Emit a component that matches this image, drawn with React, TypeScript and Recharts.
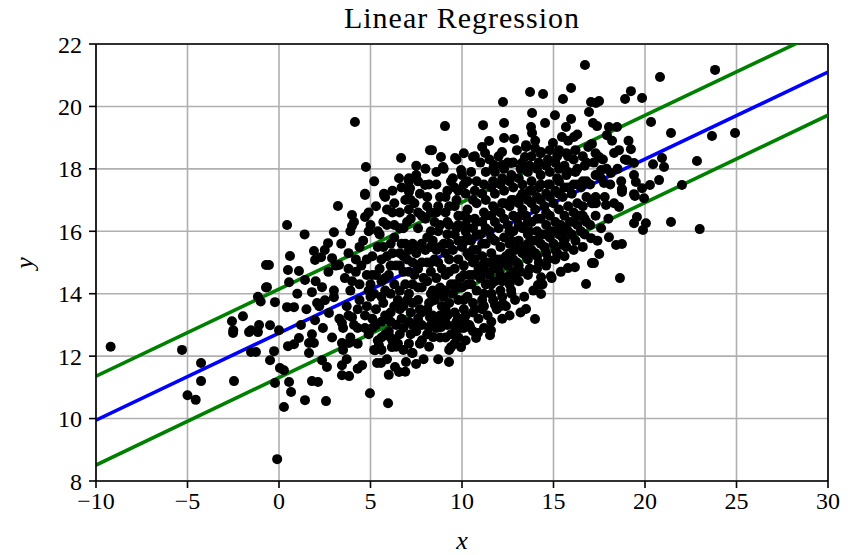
import React from 'react'
import {
  ComposedChart,
  Scatter,
  Line,
  XAxis,
  YAxis,
  CartesianGrid,
  ReferenceLine,
} from 'recharts'

const samples: [number, number][] = [
  // far left
  [-9.2, 12.3], [-5.3, 12.2], [-5.0, 10.75], [-4.55, 10.6], [-4.26, 11.78], [-4.26, 11.2],
  [-2.46, 11.2], [-2.51, 12.74], [-1.64, 12.77], [-1.15, 12.77], [-1.53, 12.13], [-1.26, 12.13],
  [-0.71, 14.92], [-0.71, 14.2], [-1.15, 13.9], [-1.0, 13.75], [-1.97, 13.28], [-2.57, 13.12],
  [-2.5, 12.83], [-1.53, 12.83], [-1.09, 13.0],
  // upper left edge
  [4.15, 19.5], [4.75, 18.06], [6.67, 18.35], [8.25, 18.6], [6.56, 17.7], [7.1, 17.7], [7.5, 17.8],
  [7.16, 17.38], [7.98, 17.48], [4.7, 17.2], [5.74, 17.2],
  // top
  [16.72, 21.33], [13.72, 20.46], [14.43, 20.4], [15.96, 20.59], [15.52, 20.24], [12.24, 20.14],
  [17.05, 20.14], [13.83, 19.79], [15.08, 19.72], [16.94, 19.82], [9.07, 19.37], [11.15, 19.4],
  [12.3, 19.47], [14.54, 19.47], [15.96, 19.6], [13.77, 19.34], [13.83, 19.15], [15.68, 19.34],
  [17.16, 19.47], [11.48, 18.89], [12.3, 18.99], [12.84, 18.96], [8.36, 18.6], [13.5, 18.76],
  [13.99, 18.67], [12.19, 18.54], [14.97, 18.83], [15.46, 19.02], [16.12, 19.02], [8.85, 18.38],
  [9.62, 18.35], [10.6, 18.38], [11.26, 18.51], [12.19, 18.12], [12.68, 18.19], [13.44, 18.38],
  [14.32, 18.54], [11.75, 18.12], [9.95, 17.96], [8.96, 18.06],
  // right
  [23.83, 21.17], [20.82, 20.94], [19.23, 20.49], [18.91, 20.24], [19.84, 20.27], [17.49, 20.17],
  [17.32, 20.11], [20.33, 19.5], [21.42, 19.15], [23.66, 19.05], [24.92, 19.15], [22.84, 18.25],
  [20.93, 18.35], [20.44, 18.15], [21.04, 18.06], [20.77, 17.64], [22.02, 17.48], [20.27, 17.48],
  [19.84, 17.38], [18.74, 17.35], [19.4, 17.19],
  [17.38, 19.37], [18.03, 19.34], [18.47, 19.34], [17.92, 19.08], [18.58, 18.6], [19.23, 18.63],
  [17.49, 18.38], [18.31, 18.51], [19.02, 18.28], [19.4, 18.19], [17.6, 17.96], [18.14, 17.87],
  [19.4, 17.8], [19.5, 17.58], [17.76, 17.55], [18.74, 17.32],
  [17.32, 16.9], [17.87, 16.84], [18.31, 16.9], [18.58, 16.78], [18.74, 17.26], [19.45, 17.13],
  [19.95, 17.06], [19.56, 16.46], [19.4, 16.26], [20.05, 16.26], [19.89, 16.04], [21.42, 16.3],
  [22.99, 16.07], [17.6, 16.1], [18.03, 15.81], [18.42, 15.56], [18.74, 15.59], [17.21, 14.98],
  [18.63, 14.5], [17.5, 15.27],
  // lower right of the cloud
  [17.16, 16.9], [17.05, 15.78], [15.52, 15.56], [15.79, 14.82], [16.17, 14.85], [17.1, 14.98],
  [16.78, 14.31], [14.86, 14.56], [14.32, 14.53], [14.15, 14.28], [14.32, 13.99], [13.5, 13.51],
  [13.99, 13.19], [11.8, 13.64], [11.15, 13.64], [12.24, 13.67], [12.68, 14.12], [12.9, 14.53],
  [8.25, 13.25], [8.52, 13.22], [9.07, 13.15], [9.78, 13.22], [10.16, 13.09], [10.44, 12.93],
  [10.87, 12.74], [11.58, 12.83], [8.85, 12.93], [9.62, 12.93],
  [8.42, 12.61], [9.67, 12.64], [9.4, 12.29], [9.95, 12.29], [10.77, 12.58], [11.53, 12.67],
  [9.29, 11.81],
  // bottom left
  [-0.1, 8.7], [0.27, 10.37], [1.42, 10.59], [2.57, 10.56], [4.97, 10.81], [5.96, 10.49],
  [0.66, 10.85], [0.55, 11.17], [-0.22, 11.14], [1.8, 11.2], [2.13, 11.17], [3.44, 11.39],
  [3.83, 11.36], [0.05, 11.62], [0.27, 11.55], [-0.49, 11.87], [-0.27, 12.16], [0.49, 12.32],
  [0.82, 12.38], [1.09, 12.58], [1.64, 12.42], [1.91, 12.42], [1.64, 12.1], [2.62, 11.65],
  [2.35, 11.87], [3.44, 11.71], [3.44, 12.42], [3.83, 12.42], [4.54, 11.71], [5.36, 11.78],
  [5.57, 11.78], [5.25, 12.19], [5.46, 12.35], [6.34, 11.65], [6.56, 11.49], [6.94, 11.81],
  [7.49, 11.75], [6.17, 12.29], [6.34, 12.51], [7.27, 12.1], [7.81, 12.51],
  // left part of the cloud
  [0.44, 16.2], [3.22, 16.81], [4.7, 17.16], [5.74, 17.16], [7.1, 17.26], [3.99, 16.52],
  [4.7, 16.46], [3.99, 16.17], [3.0, 15.97], [2.68, 15.62], [1.91, 15.37], [0.6, 15.21],
  [-0.55, 14.92], [0.49, 14.76], [1.09, 14.73], [0.55, 14.37], [1.42, 14.44], [-0.66, 14.21],
  [-0.22, 13.73], [0.44, 13.57], [0.82, 13.57], [1.8, 14.05], [2.35, 14.21], [1.97, 15.08],
  [2.3, 15.17], [2.9, 15.14], [3.28, 14.92], [-0.49, 12.99], [0.0, 12.83], [2.08, 13.7],
  [2.51, 13.79], [3.0, 13.89], [2.73, 13.38], [1.97, 13.15], [3.44, 13.06], [3.99, 13.25],
  [1.5, 13.5], [2.0, 14.4], [2.4, 12.9], [1.2, 13.0], [2.2, 13.6], [1.8, 12.7], [2.7, 14.7],
  [2.5, 15.4], [1.0, 14.0], [1.4, 15.9],
  // dense core
  [3.1, 14.9], [3.3, 13.2], [2.9, 12.6], [3.4, 15.6], [3.0, 14.1], [3.5, 12.2],
  [3.6, 14.5], [3.7, 13.6], [3.8, 15.3], [3.5, 12.9], [3.9, 16.0], [3.7, 11.9],
  [4.1, 13.0], [4.0, 14.4], [4.2, 15.1], [4.3, 12.4], [4.4, 13.8], [4.1, 16.3], [4.5, 14.9], [4.3, 11.6],
  [4.7, 13.3], [4.8, 14.6], [4.6, 15.7], [4.9, 12.7], [5.0, 13.9], [5.1, 15.2], [4.9, 16.6],
  [5.2, 12.2], [5.0, 14.3], [5.3, 13.5], [5.2, 17.6], [5.4, 16.0],
  [5.5, 14.8], [5.6, 13.1], [5.7, 15.5], [5.6, 12.6], [5.8, 14.1], [5.9, 16.7], [5.7, 13.7],
  [5.9, 11.9], [5.5, 15.9], [5.8, 17.1],
  [6.0, 14.6], [6.1, 13.4], [6.2, 15.3], [6.0, 12.8], [6.3, 16.2], [6.1, 14.0], [6.4, 13.0],
  [6.2, 17.3], [6.3, 15.8], [6.4, 12.3], [6.0, 11.4],
  [6.6, 14.9], [6.5, 13.8], [6.7, 15.6], [6.8, 12.9], [6.6, 16.6], [6.9, 14.3], [6.7, 13.2],
  [6.9, 17.0], [6.5, 12.4], [6.8, 15.2], [6.9, 11.5],
  [7.0, 15.1], [7.1, 14.0], [7.2, 13.4], [7.0, 16.3], [7.3, 15.6], [7.2, 12.7], [7.4, 14.6],
  [7.1, 17.6], [7.3, 12.1], [7.4, 16.9], [7.0, 13.8],
  [7.5, 15.3], [7.6, 14.2], [7.7, 13.5], [7.6, 16.1], [7.8, 15.0], [7.5, 12.8], [7.9, 14.5],
  [7.7, 17.2], [7.8, 13.0], [7.6, 16.6], [7.9, 11.9], [7.5, 18.1],
  [8.0, 15.4], [8.1, 14.4], [8.2, 13.7], [8.0, 16.4], [8.3, 15.0], [8.2, 12.9], [8.4, 14.1],
  [8.1, 17.1], [8.3, 16.0], [8.4, 13.3], [8.0, 18.0], [8.2, 12.3], [8.4, 15.7],
  [8.5, 15.1], [8.6, 14.5], [8.7, 16.0], [8.5, 13.8], [8.8, 15.5], [8.6, 13.1], [8.9, 14.8],
  [8.7, 16.8], [8.8, 12.6], [8.6, 17.5], [8.9, 13.6], [8.5, 16.3], [8.7, 11.9],
  [9.0, 15.6], [9.1, 14.6], [9.2, 16.3], [9.0, 13.9], [9.3, 15.1], [9.2, 13.3], [9.4, 14.3],
  [9.1, 17.1], [9.3, 16.8], [9.4, 12.7], [9.0, 18.0], [9.2, 15.9], [9.3, 12.2], [9.4, 17.6],
  [9.5, 15.4], [9.6, 14.8], [9.7, 16.1], [9.5, 14.0], [9.8, 15.7], [9.6, 13.4], [9.9, 14.5],
  [9.7, 17.0], [9.8, 16.5], [9.9, 12.9], [9.5, 17.7], [9.6, 12.4], [9.8, 13.8], [9.7, 18.3],
  [10.0, 15.5], [10.1, 14.9], [10.2, 16.2], [10.0, 14.2], [10.3, 15.8], [10.1, 13.5], [10.4, 14.6],
  [10.2, 17.2], [10.3, 16.7], [10.4, 13.0], [10.0, 17.8], [10.2, 12.5], [10.3, 13.9], [10.1, 18.5],
  [10.4, 15.2],
  [10.5, 15.7], [10.6, 15.0], [10.7, 16.4], [10.5, 14.3], [10.8, 15.9], [10.6, 13.7], [10.9, 14.8],
  [10.7, 17.3], [10.8, 16.9], [10.9, 13.2], [10.5, 17.9], [10.6, 12.8], [10.8, 14.1], [10.7, 18.4],
  [11.0, 15.9], [11.1, 15.2], [11.2, 16.6], [11.0, 14.5], [11.3, 16.1], [11.1, 13.8], [11.4, 15.0],
  [11.2, 17.5], [11.3, 17.0], [11.4, 13.3], [11.0, 18.2], [11.2, 12.9], [11.3, 14.3], [11.1, 18.7],
  [11.5, 16.0], [11.6, 15.3], [11.7, 16.8], [11.5, 14.6], [11.8, 16.3], [11.6, 14.0], [11.9, 15.1],
  [11.7, 17.6], [11.8, 17.2], [11.9, 13.5], [11.5, 18.3], [11.6, 13.1], [11.8, 14.4], [11.7, 18.0],
  [12.0, 16.1], [12.1, 15.5], [12.2, 16.9], [12.0, 14.8], [12.3, 16.4], [12.1, 14.1], [12.4, 15.2],
  [12.2, 17.7], [12.3, 17.3], [12.4, 13.6], [12.0, 18.4], [12.2, 13.2], [12.3, 14.5],
  [12.5, 16.2], [12.6, 15.6], [12.7, 17.0], [12.5, 14.9], [12.8, 16.5], [12.6, 14.3], [12.9, 15.4],
  [12.7, 17.8], [12.8, 17.4], [12.9, 13.8], [12.5, 18.2], [12.6, 13.3], [12.8, 14.7],
  [13.0, 16.4], [13.1, 15.7], [13.2, 17.1], [13.0, 15.0], [13.3, 16.7], [13.1, 14.4], [13.4, 15.5],
  [13.2, 18.0], [13.3, 17.5], [13.4, 13.9], [13.0, 18.6], [13.2, 13.4],
  [13.5, 16.5], [13.6, 15.9], [13.7, 17.3], [13.5, 15.2], [13.8, 16.9], [13.6, 14.6], [13.9, 15.7],
  [13.7, 18.1], [13.8, 17.6], [13.9, 14.1], [13.5, 18.7],
  [14.0, 16.7], [14.1, 16.0], [14.2, 17.4], [14.0, 15.3], [14.3, 17.0], [14.1, 14.8], [14.4, 15.9],
  [14.2, 18.2], [14.3, 17.8], [14.4, 14.3], [14.0, 18.9],
  [14.5, 16.8], [14.6, 16.2], [14.7, 17.5], [14.5, 15.5], [14.8, 17.1], [14.6, 14.9], [14.9, 16.0],
  [14.7, 18.3], [14.8, 17.9], [14.9, 14.5],
  [15.0, 16.9], [15.1, 16.3], [15.2, 17.7], [15.0, 15.6], [15.3, 17.2], [15.1, 15.1], [15.4, 16.2],
  [15.2, 18.4], [15.3, 18.0], [15.4, 14.7],
  [15.5, 17.1], [15.6, 16.5], [15.7, 17.8], [15.5, 15.8], [15.8, 17.4], [15.6, 15.2], [15.9, 16.3],
  [15.7, 18.5], [15.8, 18.9],
  [16.0, 17.2], [16.1, 16.6], [16.2, 17.9], [16.0, 15.9], [16.3, 17.5], [16.1, 15.4], [16.4, 16.5],
  [16.2, 18.6], [16.3, 19.1],
  [16.5, 17.4], [16.6, 16.8], [16.7, 18.1], [16.5, 16.0], [16.8, 17.6], [16.6, 15.5], [16.9, 18.7],
  [16.7, 16.4],
  [17.0, 17.5], [17.1, 16.9], [17.2, 18.2], [17.0, 16.2], [17.3, 17.8], [17.1, 18.8], [17.4, 15.7],
  [17.6, 17.7], [17.8, 17.1], [17.7, 18.3], [18.0, 16.4], [17.9, 18.0], [18.1, 17.5], [18.2, 18.9],
  [18.5, 18.0], [18.7, 17.6], [18.9, 18.3], [19.1, 18.9],
  // core, filling between the columns above
  [3.8, 13.3], [3.9, 14.1], [3.8, 14.8], [3.9, 12.6],
  [4.3, 13.5], [4.4, 14.3], [4.2, 14.7], [4.4, 15.5], [4.3, 12.9],
  [4.8, 13.6], [4.8, 15.1], [4.9, 14.1], [4.7, 12.9], [4.9, 16.0],
  [5.3, 14.6], [5.3, 13.0], [5.4, 15.5], [5.2, 14.0], [5.3, 16.8], [5.4, 12.5],
  [5.8, 14.5], [5.8, 13.3], [5.9, 15.2], [5.8, 12.7], [5.9, 16.2],
  [6.3, 14.3], [6.3, 13.6], [6.4, 14.9], [6.2, 12.5], [6.3, 16.9],
  [6.8, 14.7], [6.8, 13.6], [6.8, 16.1], [6.9, 15.6], [6.8, 12.2],
  [7.3, 14.3], [7.3, 13.0], [7.3, 15.0], [7.2, 16.4], [7.3, 13.7], [7.2, 17.0],
  [7.8, 14.2], [7.8, 15.6], [7.8, 16.5], [7.8, 13.4], [7.7, 12.4],
  [8.3, 14.7], [8.3, 13.0], [8.3, 15.5], [8.3, 16.6], [8.2, 17.5], [8.3, 14.0],
  [8.8, 14.2], [8.8, 16.2], [8.8, 13.3], [8.8, 17.1], [8.7, 15.0],
  [9.3, 14.7], [9.3, 15.6], [9.3, 13.7], [9.2, 17.3], [9.3, 16.2], [9.2, 13.0],
  [9.8, 15.1], [9.8, 14.2], [9.8, 16.2], [9.8, 17.3], [9.7, 13.1], [9.8, 12.6],
  [10.3, 15.3], [10.3, 14.3], [10.3, 16.4], [10.2, 13.3], [10.3, 17.6], [10.2, 16.0],
  [10.8, 15.4], [10.8, 14.6], [10.8, 16.3], [10.7, 13.5], [10.8, 17.6], [10.7, 15.1],
  [11.3, 15.6], [11.3, 14.7], [11.3, 16.5], [11.2, 13.6], [11.3, 17.9], [11.2, 14.0],
  [11.8, 15.7], [11.8, 15.0], [11.8, 16.7], [11.7, 13.8], [11.8, 17.9], [11.7, 14.8],
  [12.3, 15.8], [12.3, 15.0], [12.3, 16.9], [12.2, 14.4], [12.3, 18.0], [12.2, 13.9],
  [12.8, 16.0], [12.8, 15.1], [12.8, 17.0], [12.7, 14.0], [12.8, 18.2], [12.7, 15.7],
  [13.3, 16.1], [13.3, 15.3], [13.3, 17.2], [13.2, 14.7], [13.3, 18.2], [13.2, 16.5],
  [13.8, 16.3], [13.8, 15.4], [13.8, 17.3], [13.7, 14.8], [13.8, 18.4], [13.7, 16.0],
  [14.3, 16.4], [14.3, 15.6], [14.3, 17.5], [14.2, 15.0], [14.3, 18.5],
  [14.8, 16.5], [14.8, 15.8], [14.8, 17.5], [14.7, 15.1], [14.8, 18.6],
  [15.3, 16.7], [15.3, 15.9], [15.3, 17.6], [15.2, 15.3], [15.3, 18.6],
  [15.8, 16.8], [15.8, 16.0], [15.8, 17.9], [15.7, 15.5], [15.8, 18.4],
  [16.3, 16.9], [16.3, 16.2], [16.3, 18.0], [16.2, 15.7],
  [16.8, 17.1], [16.8, 16.3], [16.8, 18.2], [16.7, 15.9],
  [17.3, 17.1], [17.3, 16.5], [17.3, 18.5],
  // core, third pass
  [5.1, 14.6], [5.1, 13.2], [5.0, 16.2], [5.1, 12.9],
  [5.6, 14.4], [5.6, 15.1], [5.6, 13.9], [5.7, 16.3], [5.6, 12.2],
  [6.1, 14.9], [6.1, 15.6], [6.1, 13.1], [6.2, 16.6], [6.1, 12.6],
  [6.6, 14.1], [6.6, 15.3], [6.6, 13.5], [6.6, 16.1], [6.6, 12.7], [6.7, 17.4],
  [7.1, 14.7], [7.1, 15.4], [7.1, 13.1], [7.1, 16.7], [7.1, 12.4],
  [7.6, 14.8], [7.6, 13.8], [7.6, 15.5], [7.6, 17.6], [7.6, 13.2],
  [8.1, 15.0], [8.1, 13.5], [8.1, 15.8], [8.1, 16.8], [8.1, 12.7],
  [8.6, 15.4], [8.6, 14.0], [8.6, 16.6], [8.6, 12.9], [8.6, 17.9],
  [9.1, 15.3], [9.1, 14.1], [9.1, 16.6], [9.1, 13.5], [9.1, 12.6],
  [9.6, 15.9], [9.6, 14.3], [9.6, 16.8], [9.6, 13.0], [9.6, 17.4],
  [10.1, 15.7], [10.1, 14.6], [10.1, 16.5], [10.1, 13.8], [10.1, 17.5], [10.1, 12.9],
  [10.6, 16.1], [10.6, 14.6], [10.6, 17.0], [10.6, 13.4], [10.6, 15.4],
  [11.1, 16.3], [11.1, 14.9], [11.1, 17.2], [11.1, 13.5], [11.1, 15.6],
  [11.6, 16.5], [11.6, 15.0], [11.6, 17.4], [11.6, 14.3], [11.6, 15.8],
  [12.1, 16.6], [12.1, 15.1], [12.1, 17.5], [12.1, 14.6], [12.1, 13.6],
  [12.6, 16.8], [12.6, 15.3], [12.6, 17.6], [12.6, 14.6], [12.6, 16.0],
  [13.1, 16.9], [13.1, 15.5], [13.1, 17.7], [13.1, 14.9], [13.1, 16.2],
  [13.6, 17.0], [13.6, 15.6], [13.6, 17.9], [13.6, 15.1], [13.6, 16.3],
  [14.1, 17.1], [14.1, 15.7], [14.1, 18.0], [14.1, 15.2], [14.1, 16.4],
  [14.6, 17.2], [14.6, 15.9], [14.6, 18.1], [14.6, 15.3], [14.6, 16.6],
  [15.1, 17.3], [15.1, 16.0], [15.1, 18.2], [15.1, 15.4],
  [15.6, 17.4], [15.6, 16.1], [15.6, 18.1], [15.6, 15.7],
  [16.1, 17.5], [16.1, 16.3], [16.1, 18.3],
  [16.6, 17.6], [16.6, 16.5], [16.6, 18.4],
]

// fitted line (blue) and the two green bands, end points
const lineX = [-10, 30]
const fitY = [9.95, 21.1]
const upperY = [11.36, 22.5]
const lowerY = [8.51, 19.72]

const xTicks = [-10, -5, 0, 5, 10, 15, 20, 25, 30]
const yTicks = [8, 10, 12, 14, 16, 18, 20, 22]

const points = samples.map(([x, y]) => ({ x, y }))
const fitLine = lineX.map((x, i) => ({ x, y: fitY[i] }))
const upperLine = lineX.map((x, i) => ({ x, y: upperY[i] }))
const lowerLine = lineX.map((x, i) => ({ x, y: lowerY[i] }))

const FONT = '"Liberation Serif", "DejaVu Serif", serif'
const tickStyle = { fontFamily: FONT, fontSize: 24, fill: '#000' }
const fmt = (v: number) => (v < 0 ? `\u2212${Math.abs(v)}` : `${v}`)

const Dot = (props: any) => <circle cx={props.cx} cy={props.cy} r={5} fill="#000" />

export default function App() {
  return (
    <div
      style={{
        position: 'absolute',
        left: 0,
        top: 0,
        width: 859,
        height: 555,
        background: '#fff',
        fontFamily: FONT,
      }}
    >
      <div
        style={{
          position: 'absolute',
          left: 96,
          width: 732,
          top: 0,
          textAlign: 'center',
          fontSize: 30,
          letterSpacing: 1,
          lineHeight: '36px',
        }}
      >
        Linear Regression
      </div>
      <div
        style={{
          position: 'absolute',
          left: 96,
          width: 732,
          top: 526,
          textAlign: 'center',
          fontSize: 26,
          fontStyle: 'italic',
          lineHeight: '30px',
        }}
      >
        x
      </div>
      <div
        style={{
          position: 'absolute',
          left: 10,
          top: 248,
          width: 30,
          textAlign: 'center',
          fontSize: 26,
          fontStyle: 'italic',
          lineHeight: '30px',
          transform: 'rotate(-90deg)',
        }}
      >
        y
      </div>
      <ComposedChart
        width={859}
        height={555}
        margin={{ top: 44, right: 31, bottom: 0, left: 0 }}
        style={{ position: 'absolute', left: 0, top: 0 }}
      >
        <CartesianGrid stroke="#b0b0b0" strokeWidth={1.6} />
        <XAxis
          dataKey="x"
          type="number"
          domain={[-10, 30]}
          ticks={xTicks}
          allowDataOverflow
          height={74}
          tickSize={7}
          tickMargin={4}
          tickFormatter={fmt}
          tick={tickStyle}
          stroke="#000"
          strokeWidth={1.6}
          tickLine={{ stroke: '#000', strokeWidth: 1.6 }}
        />
        <YAxis
          dataKey="y"
          type="number"
          domain={[8, 22]}
          ticks={yTicks}
          allowDataOverflow
          width={96}
          tickSize={7}
          tickMargin={7}
          tick={tickStyle}
          stroke="#000"
          strokeWidth={1.6}
          tickLine={{ stroke: '#000', strokeWidth: 1.6 }}
        />
        <ReferenceLine y={22} stroke="#000" strokeWidth={1.6} />
        <ReferenceLine x={30} stroke="#000" strokeWidth={1.6} />
        <Scatter data={points} dataKey="y" fill="#000" shape={Dot} isAnimationActive={false} />
        <Line
          data={upperLine}
          dataKey="y"
          stroke="#008000"
          strokeWidth={3.6}
          dot={false}
          activeDot={false}
          isAnimationActive={false}
        />
        <Line
          data={lowerLine}
          dataKey="y"
          stroke="#008000"
          strokeWidth={3.6}
          dot={false}
          activeDot={false}
          isAnimationActive={false}
        />
        <Line
          data={fitLine}
          dataKey="y"
          stroke="#0000ff"
          strokeWidth={3.6}
          dot={false}
          activeDot={false}
          isAnimationActive={false}
        />
      </ComposedChart>
    </div>
  )
}
